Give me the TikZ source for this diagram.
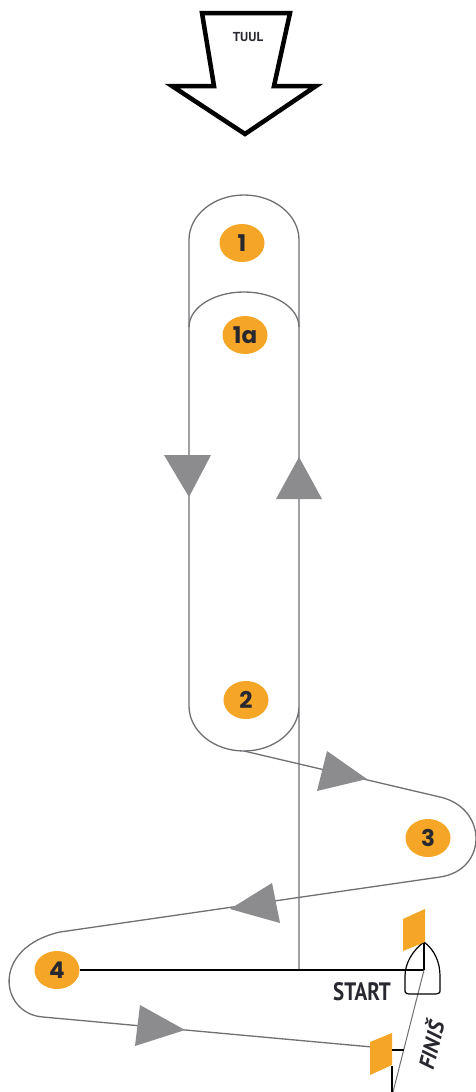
\documentclass[tikz,border=0pt]{standalone}
\usepackage{fontspec}
\setmainfont{PT Sans}
\newfontfamily\buoyfont{Poppins}
\usepackage{tikz}
\usetikzlibrary{calc,shapes.geometric}
\definecolor{buoyorange}{RGB}{246,166,38}
\definecolor{coursegray}{RGB}{112,112,116}
\definecolor{arrowgray}{RGB}{140,140,143}
\definecolor{textdark}{RGB}{40,40,48}
\tikzstyle{buoy}      = [ellipse, fill=buoyorange, minimum width=45pt, minimum height=38pt,
                         inner sep=0pt, text=textdark, font=\buoyfont\bfseries\fontsize{23}{23}\selectfont]
\tikzstyle{course}    = [draw=coursegray, line width=1.3pt]
\tikzstyle{blackline} = [draw=black, line width=1.4pt]
\tikzstyle{headtri}   = [fill=arrowgray]
\tikzstyle{flag}      = [fill=buoyorange]
\tikzstyle{wind}      = [draw=black, line width=4.5pt, miter limit=4]
\tikzstyle{loopwide}  = [x radius=55pt]

\begin{document}
\begin{tikzpicture}[x=1pt, y=-1pt,
			every node/.style={inner sep=0pt}]
		\useasboundingbox[fill=white] (0,0) rectangle (476,1092);

		% wind
		\draw[wind] (202,13) -- (290,13) -- (274,86) -- (316,86) -- (245,134) -- (172,86) -- (214,86) -- cycle;
		\node[text=textdark, font=\bfseries\fontsize{13}{13}\selectfont] (tuul) at (248,37) {TUUL};

		\coordinate (r1) at (299,240);
		\coordinate (l2) at (189,706);
		\coordinate (rjoin) at (299,970);
		\coordinate (low2) at (244,751);
		\coordinate (in3) at (440,797);
		\coordinate (out3) at (440,877);
		\coordinate (in4) at (60,932);
		\coordinate (out4) at (43,1017);
		\coordinate (flagend) at (372,1047);
		\coordinate (bow) at (424,942);
		\coordinate (mast) at (424,970);
		\coordinate (finend) at (393,1092);

		\node[buoy] (b1)  at (242,243) {1};
		\node[buoy] (b1a) at (245,335) {1a};
		\node[buoy] (b2)  at (246,700) {2};
		\node[buoy] (b3)  at (428,838) {3};
		\node[buoy] (b4)  at (57,970) {4};

		% legs
		\draw[course] (rjoin) -- (r1) arc[start angle=0, end angle=180, loopwide, y radius=45pt]
			-- (l2) arc[start angle=180, end angle=360, loopwide, y radius=45pt];
		\draw[course] (189,327) arc[start angle=180, end angle=0, loopwide, y radius=35pt];
		\draw[course] (low2) -- (in3) .. controls (488,808) and (488,870) .. (out3)
			-- (in4) .. controls (-10,948) and (0,1014) .. (out4) -- (flagend);

		\fill[headtri] (164,455) -- (211,455) -- (189,497) -- cycle;
		\fill[headtri] (276,499) -- (322,499) -- (299,457) -- cycle;
		\fill[headtri] (327,751) -- (317,791) -- (367,779) -- cycle;
		\fill[headtri] (272,883) -- (280,923) -- (230,909) -- cycle;
		\fill[headtri] (140,1005) -- (135,1046) -- (185,1030) -- cycle;

		% start and finish
		\draw[blackline] (b4.east) -- (mast);
		\draw[draw=coursegray, line width=1pt] (mast) -- (finend);
		\draw[draw=black, line width=1.2pt] (bow) .. controls (413,950) and (405,963) .. (405,976)
			-- (405,989) .. controls (405,993) .. (409,994) -- (436,994) .. controls (440,993) .. (440,989)
			-- (440,976) .. controls (440,963) and (435,950) .. (bow);
		\draw[draw=black, line width=1.2pt] (bow) -- (mast);
		\fill[flag] (403,919) -- (425,909) -- (425,942) -- (403,951) -- cycle;
		\fill[flag] (370,1042) -- (392,1033) -- (392,1065) -- (370,1075) -- cycle;
		\draw[draw=black, line width=1.2pt] (392,1050) -- (404,1050);
		\draw[draw=black, line width=1.4pt] (392,1066) -- (392,1092);

		\node[text=textdark, font=\bfseries\fontsize{21}{21}\selectfont] (start) at (362,992) {\scalebox{1}[1.2]{START}};
		\node[text=textdark, rotate=76, font=\bfseries\itshape\fontsize{22}{22}\selectfont] (finish) at (430,1045) {FINIŠ};
	\end{tikzpicture}
\end{document}
